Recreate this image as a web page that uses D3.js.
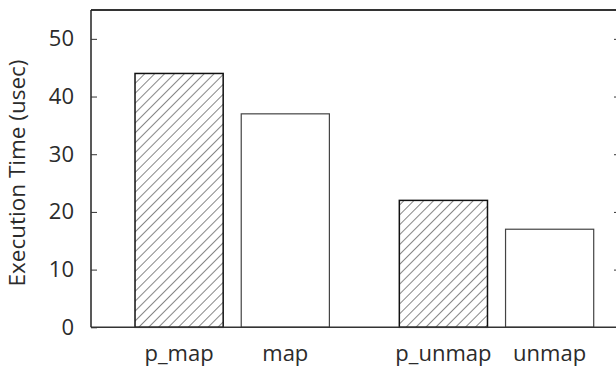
<!DOCTYPE html>
<html>
<head>
<meta charset="utf-8">
<script src="https://cdn.jsdelivr.net/npm/d3@7"></script>
<style>
  html, body { margin: 0; padding: 0; background: #fff; }
  svg { display: block; }
  text { font-family: "Open Sans", "Noto Sans", sans-serif; fill: #2b2b2b; }
</style>
</head>
<body>
<svg id="chart" width="616" height="367"></svg>
<script>
// Execution time of mapping operations (usec)
const categories = ["p_map", "map", "p_unmap", "unmap"];
const groups = ["map", "map", "unmap", "unmap"];
const variants = ["p", "plain", "p", "plain"];
const values = [44, 37, 22, 17];
const yTicks = [0, 10, 20, 30, 40, 50];
const yLabel = "Execution Time (usec)";

const svg = d3.select("#chart");
const plot = { left: 91, right: 620, top: 10, bottom: 327.3 };

const y = d3.scaleLinear().domain([0, 55]).range([plot.bottom, plot.top]);

// clusters of two bars each, prefixed variant first
const outer = d3.scaleBand()
  .domain(Array.from(new Set(groups)))
  .range([plot.left, plot.right])
  .paddingInner(0.2646)
  .paddingOuter(0.133)
  .align(0.626);
const inner = d3.scaleBand()
  .domain(["p", "plain"])
  .range([0, outer.bandwidth()])
  .paddingInner(0.17)
  .paddingOuter(0);

const defs = svg.append("defs");
const pat = defs.append("pattern")
  .attr("id", "hatch")
  .attr("patternUnits", "userSpaceOnUse")
  .attr("width", 7)
  .attr("height", 7)
  .attr("patternTransform", "rotate(45)");
pat.append("rect").attr("width", 7).attr("height", 7).attr("fill", "#fff");
pat.append("line")
  .attr("x1", 0).attr("y1", 0).attr("x2", 0).attr("y2", 7)
  .attr("stroke", "#222").attr("stroke-width", 1.1);

const rows = categories.map((c, i) => ({ name: c, group: groups[i], variant: variants[i], value: values[i] }));

// bars
svg.append("g").selectAll("rect")
  .data(rows)
  .join("rect")
  .attr("x", d => outer(d.group) + inner(d.variant))
  .attr("width", inner.bandwidth())
  .attr("y", d => y(d.value))
  .attr("height", d => y(0) - y(d.value))
  .attr("fill", d => d.variant === "p" ? "url(#hatch)" : "#fff")
  .attr("stroke", d => d.variant === "p" ? "#111" : "#444")
  .attr("stroke-width", d => d.variant === "p" ? 1.5 : 1.2);

// frame
const frame = svg.append("g").attr("fill", "none");
frame.append("line")
  .attr("x1", plot.left).attr("x2", plot.right)
  .attr("y1", plot.top).attr("y2", plot.top)
  .attr("stroke", "#333").attr("stroke-width", 1.8);
frame.append("line")
  .attr("x1", plot.left).attr("x2", plot.right)
  .attr("y1", plot.bottom).attr("y2", plot.bottom)
  .attr("stroke", "#333").attr("stroke-width", 1.5);
frame.append("line")
  .attr("x1", plot.left).attr("x2", plot.left)
  .attr("y1", plot.top).attr("y2", plot.bottom)
  .attr("stroke", "#222").attr("stroke-width", 1.5);
frame.append("line")
  .attr("x1", plot.right).attr("x2", plot.right)
  .attr("y1", plot.top).attr("y2", plot.bottom)
  .attr("stroke", "#222").attr("stroke-width", 1.5);

// left axis with inward ticks
const yAxisL = svg.append("g")
  .attr("transform", `translate(${plot.left},0)`)
  .call(d3.axisLeft(y).tickValues(yTicks).tickSize(-6).tickPadding(17).tickFormat(d3.format("d")));
yAxisL.select(".domain").remove();
yAxisL.selectAll(".tick line").attr("stroke", "#333").attr("stroke-width", 1);
yAxisL.selectAll(".tick text")
  .attr("font-size", 22)
  .style("font-family", '"Open Sans", "Noto Sans", sans-serif')
  .attr("fill", "#2b2b2b");

// mirrored ticks on the right border
const yAxisR = svg.append("g")
  .attr("transform", `translate(${plot.right},0)`)
  .call(d3.axisRight(y).tickValues(yTicks.filter(t => t > 0)).tickSize(-6).tickFormat(""));
yAxisR.select(".domain").remove();
yAxisR.selectAll(".tick line").attr("stroke", "#333").attr("stroke-width", 1);

// category labels
svg.append("g").selectAll("text")
  .data(rows)
  .join("text")
  .attr("x", d => outer(d.group) + inner(d.variant) + inner.bandwidth() / 2)
  .attr("y", 361)
  .attr("text-anchor", "middle")
  .attr("font-size", 22)
  .text(d => d.name);

// y axis title
svg.append("text")
  .attr("transform", `translate(25,173) rotate(-90)`)
  .attr("text-anchor", "middle")
  .attr("font-size", 22.5)
  .text(yLabel);
</script>
</body>
</html>
